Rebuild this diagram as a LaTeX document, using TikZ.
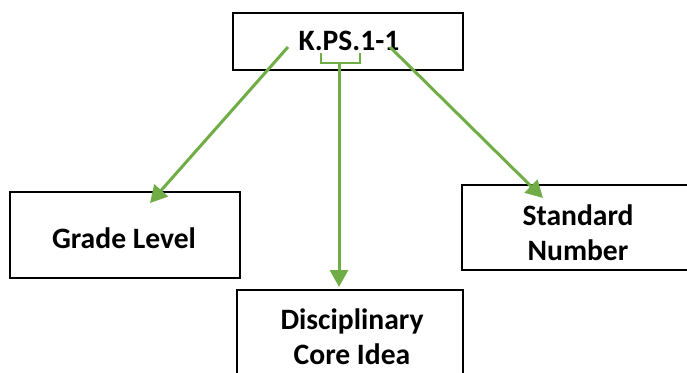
\documentclass[tikz,border=0pt]{standalone}
\usepackage{fontspec}
\setmainfont{Carlito}
\usepackage{xcolor}
\usetikzlibrary{
    arrows.meta
}
\definecolor{leafgreen}{HTML}{70AD47}
\tikzset{
    box/.style={draw=black, line width=0.8pt, inner sep=0pt},
    word/.style={inner sep=0pt, align=center,
        font=\fontsize{14.8}{17.5}\selectfont\bfseries},
    link/.style={draw=leafgreen, line width=1.5pt,
        -{Triangle[length=8.5pt, width=9pt]}},
    brace/.style={draw=leafgreen, line width=1.2pt}
}

\begin{document}
\begin{tikzpicture}[x=0.5pt, y=-0.5pt]
        \clip (0,0) rectangle (687,372);

        \draw (348,41.5) node[box, minimum width=115pt, minimum height=28.5pt](code){};
        \draw (125,235) node[box, minimum width=115pt, minimum height=43pt](grade){};
        \draw (581,227.5) node[box, minimum width=119pt, minimum height=42.5pt](number){};
        \draw (350,338) node[box, minimum width=113pt, minimum height=48pt](dci){};

        \draw (349,41) node[word](code-text){K.PS.1-1};
        \draw (124,238) node[word](grade-text){Grade Level};
        \draw (578,233) node[word](number-text){Standard\\Number};
        \draw (352,337) node[word](dci-text){Disciplinary\\Core Idea};

        % ends of the arrows
        \coordinate (from-l) at (288,47);
        \coordinate (from-r) at (390,47);
        \coordinate (from-c) at (339,63);
        \coordinate (to-l) at (150,203);
        \coordinate (to-r) at (543,198);
        \coordinate (to-c) at (339,287);

        \draw[brace] (321,53) |- (360,63) -- (360,53);

        \draw[link] (from-l) -- (to-l);
        \draw[link] (from-c) -- (to-c);
        \draw[link] (from-r) -- (to-r);
    \end{tikzpicture}
\end{document}
